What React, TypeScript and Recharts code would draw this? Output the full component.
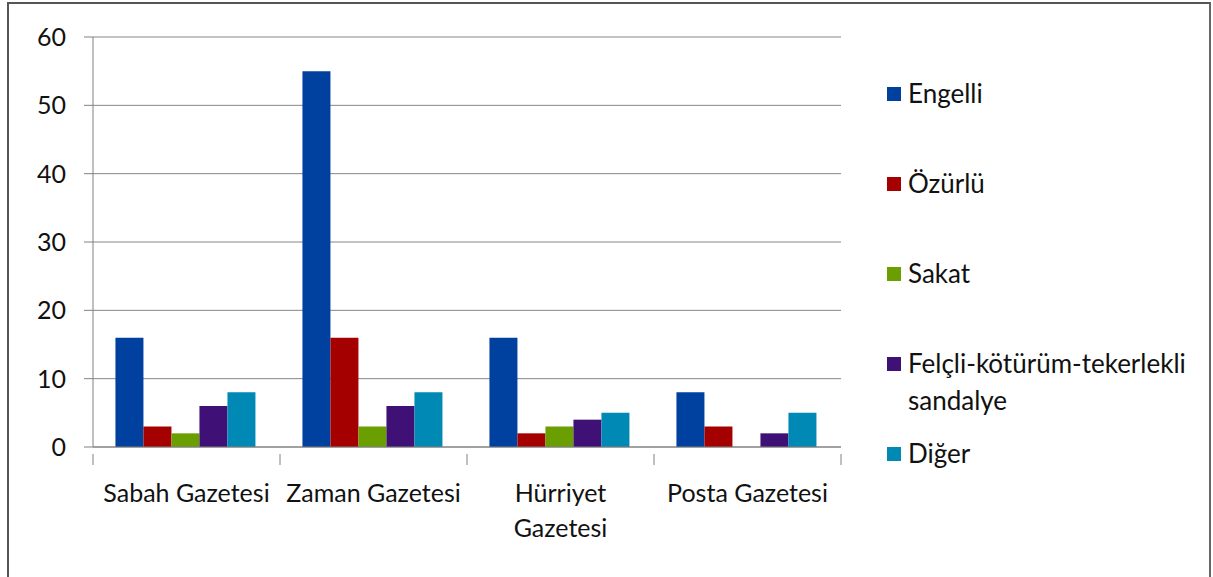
import React from 'react';
import { BarChart, Bar, XAxis, YAxis, CartesianGrid, Legend } from 'recharts';

const FONT = 'Lato, "Open Sans", sans-serif';

const categories = ['Sabah Gazetesi', 'Zaman Gazetesi', 'Hürriyet\nGazetesi', 'Posta Gazetesi'];
const engelli = [16, 55, 16, 8];
const ozurlu = [3, 16, 2, 3];
const sakat = [2, 3, 3, 0];
const felcli = [6, 6, 4, 2];
const diger = [8, 8, 5, 5];
const yTicks = [0, 10, 20, 30, 40, 50, 60];

const SERIES = [
    { key: 'engelli', name: 'Engelli', color: '#0041a0', values: engelli },
    { key: 'ozurlu', name: 'Özürlü', color: '#a50000', values: ozurlu },
    { key: 'sakat', name: 'Sakat', color: '#6b9e00', values: sakat },
    { key: 'felcli', name: 'Felçli-kötürüm-tekerlekli sandalye', color: '#3f1075', values: felcli },
    { key: 'diger', name: 'Diğer', color: '#0089b4', values: diger },
];

const data = categories.map((name, i) => {
    const row: { [key: string]: string | number } = { name };
    SERIES.forEach(s => { row[s.key] = s.values[i]; });
    return row;
});

const W = 1213;
const H = 577;
const PLOT_LEFT = 93;
const PLOT_RIGHT = 841;
const STEP = (PLOT_RIGHT - PLOT_LEFT) / categories.length;

// category label plus the tick marks on the category boundaries
const CategoryTick = ({ x, y, payload, index }: any) => {
    const lines = String(payload.value).split('\n');
    const last = index === categories.length - 1;
    return (
        <g>
            <line x1={x - STEP / 2} x2={x - STEP / 2} y1={y - 1} y2={y + 10} stroke="#808080" />
            {last && <line x1={x + STEP / 2} x2={x + STEP / 2} y1={y - 1} y2={y + 10} stroke="#808080" />}
            <text x={x} y={y + 47} textAnchor="middle" fontFamily={FONT} fontSize={25} fill="#111">
                {lines.map((l, i) => (
                    <tspan key={i} x={x} dy={i === 0 ? 0 : 35}>{l}</tspan>
                ))}
            </text>
        </g>
    );
};

const LegendContent = () => (
    <div style={{ fontFamily: FONT, fontSize: 26, color: '#111' }}>
        {SERIES.map(s => (
            <div key={s.key} style={{ height: 90, display: 'flex', alignItems: 'flex-start' }}>
                <div style={{ width: 14, height: 14, background: s.color, marginTop: 12, marginRight: 7, flexShrink: 0 }} />
                <div style={{ width: 295, lineHeight: '37px' }}>{s.name}</div>
            </div>
        ))}
    </div>
);

export default function App() {
    return (
        <div style={{ position: 'absolute', left: 0, top: 0, width: W, height: H, background: '#fff', overflow: 'hidden' }}>
            <div style={{ position: 'absolute', left: 7, top: 2, width: 1200, height: H + 10, borderLeft: '2px solid #555', borderTop: '2px solid #555', borderRight: '2px solid #666' }} />
            <BarChart
                width={W}
                height={H}
                data={data}
                margin={{ top: 37, right: W - PLOT_RIGHT, left: 0, bottom: 0 }}
                barCategoryGap="12%"
                barGap={0}
                style={{ position: 'absolute', left: 0, top: 0 }}
            >
                <CartesianGrid vertical={false} stroke="#868686" />
                <XAxis
                    dataKey="name"
                    height={130}
                    interval={0}
                    axisLine={{ stroke: '#808080' }}
                    tickLine={false}
                    tick={<CategoryTick />}
                />
                <YAxis
                    width={PLOT_LEFT}
                    domain={[0, 60]}
                    ticks={yTicks}
                    interval={0}
                    axisLine={{ stroke: '#808080' }}
                    tickLine={{ stroke: '#808080' }}
                    tickSize={9}
                    tickMargin={18}
                    tick={{ fontFamily: FONT, fontSize: 25, fill: '#111' }}
                />
                <Legend
                    layout="vertical"
                    align="center"
                    verticalAlign="middle"
                    content={<LegendContent />}
                    wrapperStyle={{ left: 887, top: 75, width: 320 }}
                />
                {SERIES.map(s => (
                    <Bar key={s.key} dataKey={s.key} name={s.name} fill={s.color} isAnimationActive={false} />
                ))}
            </BarChart>
        </div>
    );
}
